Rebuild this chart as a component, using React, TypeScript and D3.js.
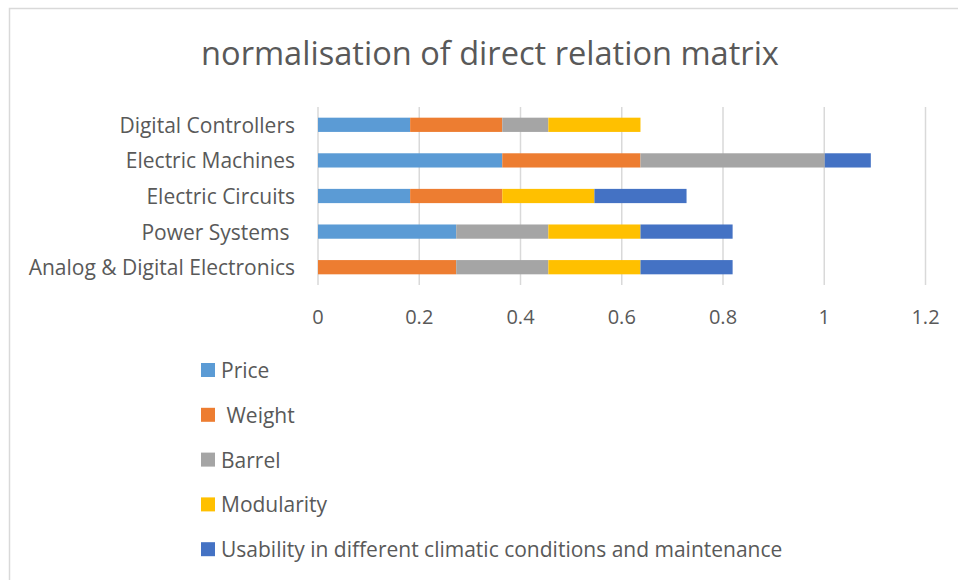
import * as d3 from "d3"

const categories = [
    "Digital Controllers",
    "Electric Machines",
    "Electric Circuits",
    "Power Systems ",
    "Analog & Digital Electronics",
]
const seriesNames = ["Price", " Weight", "Barrel", "Modularity", "Usability in different climatic conditions and maintenance"]
const seriesColors = ["#5B9BD5", "#ED7D31", "#A5A5A5", "#FFC000", "#4472C4"]

// one array per series, in category order
const price = [0.182, 0.364, 0.182, 0.273, 0]
const weight = [0.182, 0.273, 0.182, 0, 0.273]
const barrel = [0.091, 0.364, 0, 0.182, 0.182]
const modularity = [0.182, 0, 0.182, 0.182, 0.182]
const usability = [0, 0.091, 0.182, 0.182, 0.182]
const xTicks = [0, 0.2, 0.4, 0.6, 0.8, 1, 1.2]

const FONT = "'Open Sans', sans-serif"
const TEXT = "#595959"

export default function App() {
    const width = 958
    const height = 580

    const series = [price, weight, barrel, modularity, usability]
    const rows = categories.map((c, i) => {
        const r: any = { cat: c }
        seriesNames.forEach((s, j) => { r[s] = series[j][i] })
        return r
    })
    const stacked = d3.stack().keys(seriesNames)(rows)

    const x = d3.scaleLinear().domain([0, 1.2]).range([318, 925.5])
    const y = d3.scaleBand().domain(categories).range([107, 285]).paddingInner(0.6).paddingOuter(0.3)

    return (
        <div style={{ position: "fixed", left: 0, top: 0, width, height, background: "#fff" }}>
            <svg width={width} height={height} style={{ display: "block" }}>
                <rect x={9.5} y={8.5} width={1200} height={1200} fill="#fff" stroke="#d9d9d9" strokeWidth={1.5} />

                <text x={490} y={52} textAnchor="middle" dominantBaseline="central"
                    style={{ fontFamily: FONT, fontSize: 32.6, fill: TEXT }}>
                    normalisation of direct relation matrix
                </text>

                {xTicks.map(t => (
                    <g key={t}>
                        <line x1={x(t)} x2={x(t)} y1={y.range()[0]} y2={y.range()[1]} stroke="#d9d9d9" strokeWidth={1.5} />
                        <text x={x(t)} y={316} textAnchor="middle" dominantBaseline="central"
                            style={{ fontFamily: FONT, fontSize: 20, fill: TEXT }}>{t}</text>
                    </g>
                ))}

                {stacked.map((layer, j) => (
                    <g key={layer.key} fill={seriesColors[j]}>
                        {layer.map((d, i) => (
                            <rect key={i} x={x(d[0])} y={y(categories[i])} width={x(d[1]) - x(d[0])} height={y.bandwidth()} />
                        ))}
                    </g>
                ))}

                {categories.map(c => (
                    <text key={c} x={295} y={(y(c) as number) + y.bandwidth() / 2} textAnchor="end" dominantBaseline="central"
                        style={{ fontFamily: FONT, fontSize: 21, fill: TEXT, whiteSpace: "pre" }}>{c}</text>
                ))}

                {seriesNames.map((s, j) => (
                    <g key={s} transform={`translate(201,${370 + j * 44.8})`}>
                        <rect x={0} y={-7} width={14} height={14} fill={seriesColors[j]} />
                        <text x={20} y={0} dominantBaseline="central"
                            style={{ fontFamily: FONT, fontSize: 21, fill: TEXT, whiteSpace: "pre" }}>{s}</text>
                    </g>
                ))}
            </svg>
        </div>
    )
}
